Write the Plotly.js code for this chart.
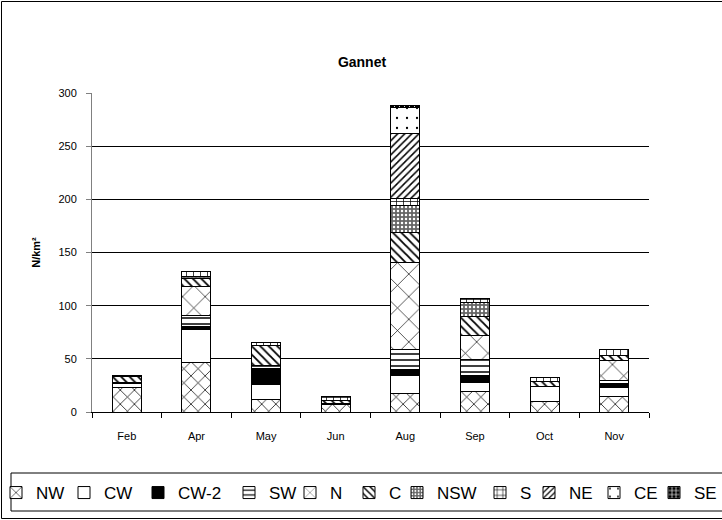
<!DOCTYPE html>
<html><head><meta charset="utf-8">
<script src="https://cdn.plot.ly/plotly-3.0.1.min.js"></script>
<style>
html,body{margin:0;padding:0;overflow:hidden;background:#fff;width:722px;height:520px}
#chart{position:absolute;left:-40px;top:0;width:800px;height:520px}
</style>
</head><body><div id="chart"></div>
<script>
const months = ['Feb','Apr','May','Jun','Aug','Sep','Oct','Nov'];
const NW  = [22.9, 46.6, 12.1, 7.1, 17.8, 19.0, 9.6, 14.9];
const CW  = [3.8, 31.0, 14.1, 1.2, 16.9, 8.6, 14.1, 7.8];
const CW2 = [1.2, 3.1, 15.1, null, 5.6, 7.1, null, 4.5];
const SW  = [null, 10.4, 2.8, null, 18.8, 14.5, null, 2.8];
const N   = [null, 26.6, null, null, 81.8, 23.1, null, 18.5];
const C   = [5.6, 8.1, 18.1, 2.2, 27.5, 17.2, 4.7, 5.0];
const NSW = [null, 1.3, null, null, 26.1, 13.3, null, null];
const S   = [0.5, 5.3, 2.7, 3.8, 6.3, 3.6, 3.9, 5.6];
const NE  = [null, null, null, null, 61.0, null, null, null];
const CE  = [null, null, null, null, 24.5, null, null, null];
const SE  = [null, null, 0.5, null, 1.9, null, null, null];
const yTicks = [0, 50, 100, 150, 200, 250, 300];

const series = [
  {name:'NW', y:NW}, {name:'CW', y:CW}, {name:'CW-2', y:CW2}, {name:'SW', y:SW},
  {name:'N', y:N}, {name:'C', y:C}, {name:'NSW', y:NSW}, {name:'S', y:S},
  {name:'NE', y:NE}, {name:'CE', y:CE}, {name:'SE', y:SE}
];

const looks = {
  'NW':   {leg:'legend',  lw:23, pat:{shape:'x', size:10, solidity:0.14, fgcolor:'#000', bgcolor:'#fff'}},
  'CW':   {leg:'legend',  lw:29, color:'#fff'},
  'CW-2': {leg:'legend',  lw:46, color:'#000'},
  'SW':   {leg:'legend',  lw:16, pat:{shape:'-', size:6, solidity:0.25, fgcolor:'#000', bgcolor:'#fff'}},
  'N':    {leg:'legend',  lw:14, pat:{shape:'x', size:16, solidity:0.08, fgcolor:'#000', bgcolor:'#fff'}},
  'C':    {leg:'legend',  lw:3,  pat:{shape:'\\', size:6, solidity:0.3, fgcolor:'#000', bgcolor:'#fff'}},
  'NSW':  {leg:'legend',  lw:0,  pat:{shape:'.', size:4, solidity:0.3, fgcolor:'#fff', bgcolor:'#666'}},
  'S':    {leg:'legend2', lw:4,  pat:{shape:'+', size:7, solidity:0.2, fgcolor:'#000', bgcolor:'#fff'}},
  'NE':   {leg:'legend2', lw:20, pat:{shape:'/', size:5, solidity:0.3, fgcolor:'#000', bgcolor:'#fff'}},
  'CE':   {leg:'legend2', lw:15, pat:{shape:'.', size:10, solidity:0.04, fgcolor:'#000', bgcolor:'#fff'}},
  'SE':   {leg:'legend2', lw:0,  pat:{shape:'+', size:5, solidity:0.3, fgcolor:'#fff', bgcolor:'#000'}}
};

const traces = series.map(s => {
  const L = looks[s.name];
  const marker = {line:{color:'#000', width:1}};
  if (L.pat) { marker.color = L.pat.bgcolor; marker.pattern = L.pat; }
  else { marker.color = L.color; }
  const t = {type:'bar', name:s.name, x:months, y:s.y, marker:marker, legend:L.leg, hoverinfo:'name+y'};
  if (L.lw) t.legendwidth = L.lw;
  return t;
});

// geometry (div is shifted -40px)
const W = 800, H = 520, ML = 132, MR = W - 132 - 557, MT = 93, MB = 108;
const pw = 557, ph = 319;
const px = xw => (xw + 40 - ML) / pw;          // window x -> paper x
const py = yw => (H - MB - yw) / ph;           // window y -> paper y

const legFont = {family:'Liberation Sans, Arial, sans-serif', size:17, color:'#000'};

const layout = {
  width:W, height:H,
  margin:{l:ML, r:MR, t:MT, b:MB, autoexpand:false},
  paper_bgcolor:'#fff', plot_bgcolor:'#fff',
  barmode:'stack', bargap:0.583,
  font:{family:'Liberation Sans, Arial, sans-serif', size:11, color:'#000'},
  title:{text:'<b>Gannet</b>', font:{size:14, color:'#000'}, xref:'paper', x:px(362), xanchor:'center', yref:'container', y:1-62/H, yanchor:'middle'},
  xaxis:{type:'category', tickson:'boundaries', ticks:'outside', ticklen:5, tickcolor:'#000',
         showline:true, linecolor:'#000', linewidth:1, showgrid:false, ticklabelstandoff:14,
         tickfont:{size:11}, fixedrange:true},
  yaxis:{range:[0,300], tickvals:yTicks, ticks:'outside', ticklen:5, tickcolor:'#808080',
         showline:true, linecolor:'#808080', linewidth:1, showgrid:true, gridcolor:'#000', gridwidth:1,
         zeroline:false, ticklabelstandoff:7, tickfont:{size:11}, fixedrange:true,
         title:{text:'<b>N/km²</b>', font:{size:11}, standoff:15}},
  legend:{orientation:'h', x:px(-4), xanchor:'left', y:py(475), yanchor:'top', font:legFont,
          bgcolor:'rgba(0,0,0,0)', borderwidth:0, traceorder:'normal', itemclick:false, itemdoubleclick:false},
  legend2:{orientation:'h', x:px(480), xanchor:'left', y:py(475), yanchor:'top', font:legFont,
          bgcolor:'rgba(0,0,0,0)', borderwidth:0, traceorder:'normal', itemclick:false, itemdoubleclick:false},
  shapes:[
    {type:'rect', xref:'paper', yref:'paper', x0:px(1.5), x1:px(760), y0:py(1.5), y1:py(518.5), line:{color:'#000', width:1}, layer:'below'},
    {type:'rect', xref:'paper', yref:'paper', x0:px(11), x1:px(760), y0:py(473), y1:py(511), line:{color:'#000', width:1}, layer:'below'}
  ],
  showlegend:true
};

Plotly.newPlot('chart', traces, layout, {displayModeBar:false, staticPlot:false, responsive:false});
</script>
</body></html>
